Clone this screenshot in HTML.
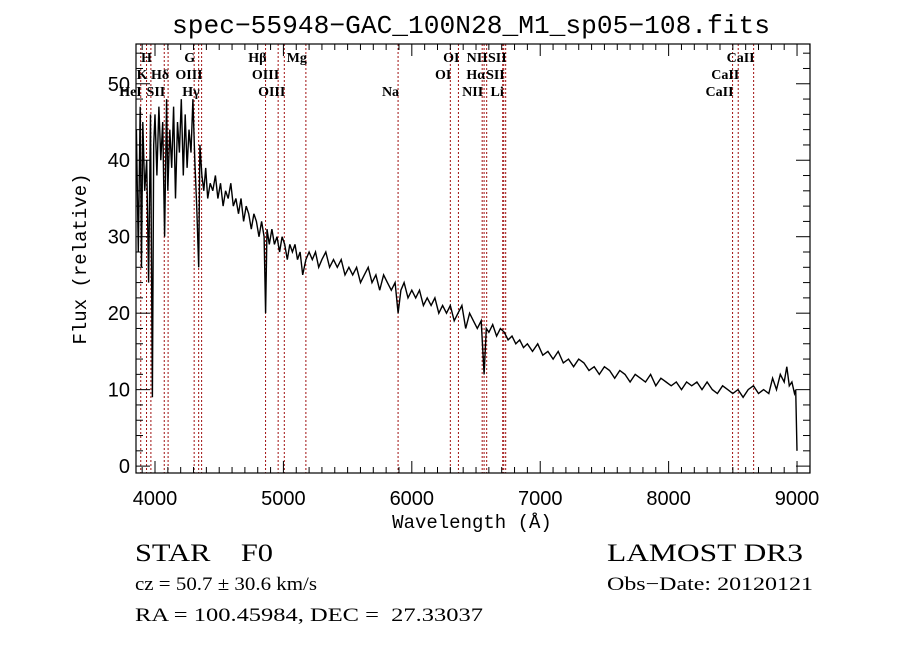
<!DOCTYPE html>
<html><head><meta charset="utf-8"><style>
html,body{margin:0;padding:0;background:#fff;}
svg{display:block;font-family:"Liberation Serif",serif;}
</style></head><body>
<svg id="chart" width="900" height="649" viewBox="0 0 900 649">
<rect width="900" height="649" fill="#fff"/>
<text x="471" y="33" text-anchor="middle" font-size="26" font-family="Liberation Mono, monospace" textLength="598" lengthAdjust="spacingAndGlyphs">spec−55948−GAC_100N28_M1_sp05−108.fits</text>
<g id="lines"></g>
<g id="series"></g>
<rect x="136" y="44" width="674" height="429" fill="none" stroke="#000" stroke-width="1.2"/>
<g id="axes"></g>
<text x="472" y="528" text-anchor="middle" font-size="19" font-family="Liberation Mono, monospace">Wavelength (Å)</text>
<text transform="translate(86,259) rotate(-90)" text-anchor="middle" font-size="19" font-family="Liberation Mono, monospace">Flux (relative)</text>
<text x="135" y="561" font-size="25" xml:space="preserve" textLength="138" lengthAdjust="spacingAndGlyphs">STAR    F0</text>
<text x="607" y="561" font-size="25" textLength="196" lengthAdjust="spacingAndGlyphs">LAMOST DR3</text>
<text x="135" y="590" font-size="19" textLength="182" lengthAdjust="spacingAndGlyphs">cz = 50.7 ± 30.6 km/s</text>
<text x="607" y="590" font-size="19" textLength="206" lengthAdjust="spacingAndGlyphs">Obs−Date: 20120121</text>
<text x="135" y="621" font-size="19" xml:space="preserve" textLength="348" lengthAdjust="spacingAndGlyphs">RA = 100.45984, DEC =  27.33037</text>
</svg>
<script>
const wave = [3855,3870,3885,3895,3905,3920,3935,3950,3965,3980,3990,4000,4015,4030,4045,4060,4075,4090,4100,4115,4130,4145,4160,4175,4190,4205,4220,4235,4250,4265,4280,4295,4310,4325,4340,4350,4365,4380,4395,4410,4430,4450,4470,4490,4510,4530,4550,4570,4590,4610,4630,4650,4670,4690,4710,4730,4750,4770,4790,4810,4830,4850,4861,4872,4890,4910,4930,4950,4970,4990,5010,5030,5050,5070,5090,5110,5130,5150,5175,5200,5225,5250,5275,5300,5330,5360,5390,5420,5450,5480,5510,5540,5570,5600,5630,5660,5690,5720,5750,5780,5810,5840,5870,5893,5915,5940,5970,6000,6030,6060,6090,6120,6150,6180,6210,6240,6270,6300,6330,6360,6390,6420,6450,6480,6510,6540,6563,6580,6600,6630,6660,6690,6720,6750,6780,6810,6840,6870,6900,6940,6980,7020,7060,7100,7140,7180,7220,7260,7300,7340,7380,7420,7460,7500,7540,7580,7620,7660,7700,7740,7780,7820,7860,7900,7940,7980,8020,8060,8100,8140,8180,8220,8260,8300,8340,8380,8420,8460,8500,8540,8580,8620,8660,8700,8740,8780,8810,8840,8870,8900,8920,8940,8960,8980,8990,9000];
const flux = [44,28,47,26,45,36,40,24,46,9,42,46,38,47,40,45,30,48,36,44,39,47,35,45,41,48,38,46,39,44,41,48,40,34,26,42,38,36,39,35,37,36,38,35,37,34,36,35,37,34,35,33,35,32,34,33,31,33,32,30,32,30,20,31,29,31,29,30,28,30,29,27,29,28,29,27,28,25,27,28,27,28,26,27,28,26,27,26,27,25,26,25,26,24,25,26,24,25,23,25,24,23,24,20,23,24,22,23,22,23,21,22,21,22,20,21,20,21,19,20,21,18,20,19,18,19,12,18,17.5,18.5,17,18,17.5,16.5,17,16,16.5,15.5,16,15,16,14.5,15,14,15,13.5,14,13,14,13.5,12.5,13,12,13,12.5,11.5,12.5,12,11,12,11.5,11,12,10.5,11.5,11,10.5,11,10,11,10.5,11,10,11,10,9.5,10.5,10,9.5,10,9,10,10.5,9.5,10,9.5,11.5,10,12,11,13,10.5,11,9.5,10,2];
const lineNames = ["HeI","K","H","SII","Hδ","G","Hγ","OIII","Hβ","OIII","OIII","Mg","Na","OI","OI","NII","Hα","NII","Li","SII","SII","CaII","CaII","CaII"];
const lineWaves = [3889,3934,3968,4072,4102,4305,4340,4363,4861,4959,5007,5175,5893,6300,6363,6548,6563,6583,6708,6716,6731,8498,8542,8662];
const lineRows = [2,1,0,2,1,0,2,1,0,1,2,0,2,1,0,2,1,0,2,1,0,2,1,0];
const xTicks = [4000,5000,6000,7000,8000,9000];
const yTicks = [0,10,20,30,40,50];

const L=136,R=810,T=44,B=473;
const X0=3852,X1=9101,Y0=-0.9,Y1=55.2;
const sx=w=>L+(w-X0)/(X1-X0)*(R-L);
const sy=v=>B-(v-Y0)/(Y1-Y0)*(B-T);
const NS="http://www.w3.org/2000/svg";
function mk(tag,attrs,parent){const e=document.createElementNS(NS,tag);for(const k in attrs)e.setAttribute(k,attrs[k]);parent.appendChild(e);return e;}

const gl=document.getElementById('lines');
lineWaves.forEach((w,i)=>{
  const x=sx(w);
  const ln=mk('line',{x1:x,x2:x,y1:T,y2:B,stroke:'#a01010','stroke-width':1,'stroke-dasharray':'2,2'},gl);
  
  
  const t=mk('text',{x:x+1,y:T+18+lineRows[i]*17,'text-anchor':'end','font-size':14,'font-weight':'bold'},gl);
  t.textContent=lineNames[i];
  
  
});

const gs=document.getElementById('series');
const pts=wave.map((w,i)=>sx(w).toFixed(1)+','+sy(flux[i]).toFixed(1)).join(' ');
const pl=mk('polyline',{points:pts,fill:'none',stroke:'#000','stroke-width':1.4,'stroke-linejoin':'miter'},gs);



const ga=document.getElementById('axes');
for(let w=3900;w<=9100;w+=100){
  const x=sx(w);const major=w%1000===0;const len=major?12:6;
  mk('line',{x1:x,x2:x,y1:B,y2:B-len,stroke:'#000'},ga);
  mk('line',{x1:x,x2:x,y1:T,y2:T+len,stroke:'#000'},ga);
}
xTicks.forEach(w=>{
  const t=mk('text',{x:sx(w),y:B+32,'text-anchor':'middle','font-size':20,'font-family':'Liberation Sans, sans-serif'},ga);
  t.textContent=w;
  
  
});
for(let v=0;v<=55;v+=2){
  const y=sy(v);const major=v%10===0;const len=major?14:7;
  mk('line',{x1:L,x2:L+len,y1:y,y2:y,stroke:'#000'},ga);
  mk('line',{x1:R,x2:R-len,y1:y,y2:y,stroke:'#000'},ga);
}
yTicks.forEach(v=>{
  const t=mk('text',{x:L-6,y:sy(v)+7,'text-anchor':'end','font-size':20,'font-family':'Liberation Sans, sans-serif'},ga);
  t.textContent=v;
  
  
});
</script>
</body></html>
